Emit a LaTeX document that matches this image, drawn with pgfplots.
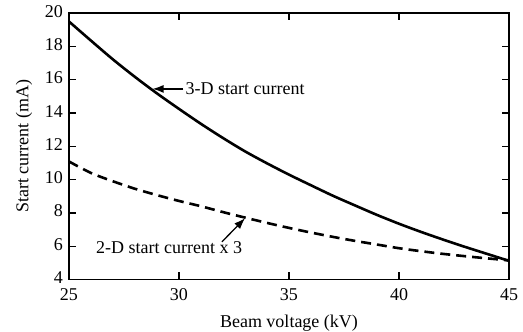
\documentclass[border=0pt]{standalone}
\usepackage{pgfplots}
\pgfplotsset{compat=1.18}
\usepackage{fontspec}
\setmainfont{Liberation Serif}
\usetikzlibrary{arrows.meta}
\begin{document}
\begin{tikzpicture}
\useasboundingbox (-69pt,-52.5pt) rectangle (454pt,279.5pt);
\begin{axis}[
  at={(0,0)}, anchor=south west,
  width=440pt, height=266.3pt, scale only axis,
  xmin=25, xmax=45, ymin=4, ymax=20,
  xtick={25,30,35,40,45}, ytick={4,6,...,20},
  tick align=inside, major tick length=7pt,
  axis line style={line width=1.6pt},
  every tick/.style={black, line width=1.3pt},
  /pgf/number format/assume math mode=true,
  tick label style={font=\fontsize{18}{20}\selectfont, inner sep=1pt},
  label style={font=\fontsize{18}{20}\selectfont},
  xticklabel style={yshift=-8pt},
  yticklabel style={xshift=-5pt, yshift=2pt},
  xlabel={Beam voltage (kV)},
  ylabel={Start current (mA)},
  xlabel style={yshift=-10pt},
  ylabel style={yshift=8pt},
  clip=false,
]
\addplot[black, line width=2.6pt, smooth] coordinates {
(25,19.5) (26,18.35) (27,17.22) (28,16.17) (29,15.18) (30,14.25)
(31,13.35) (32,12.5) (33,11.7) (34,10.98) (35,10.3) (36,9.66)
(37,9.03) (38,8.45) (39,7.88) (40,7.35) (41,6.86) (42,6.4)
(43,5.96) (44,5.54) (45,5.12)
};
\addplot[black, line width=2.6pt, smooth, dash pattern=on 10pt off 6pt] coordinates {
(25,11.09) (26,10.4) (27,9.9) (28,9.45) (29,9.07) (30,8.72)
(31,8.4) (32,8.05) (33,7.72) (34,7.4) (35,7.1) (36,6.82)
(37,6.56) (38,6.32) (39,6.1) (40,5.88) (41,5.7) (42,5.54)
(43,5.4) (44,5.27) (45,5.15)
};
\draw[line width=1.3pt, -{Latex[length=11pt,width=8pt]}] (axis cs:30.2,15.45) -- (axis cs:28.8,15.45);
\node[anchor=west, inner sep=1pt, font=\fontsize{18}{20}\selectfont] at (axis cs:30.25,15.45) {3-D start current};
\node[font=\fontsize{18}{20}\selectfont] at (axis cs:29.55,5.9) {2-D start current x 3};
\draw[line width=1.3pt, -{Latex[length=11pt,width=8pt]}] (axis cs:31.95,6.26) -- (axis cs:33.0,7.68);
\end{axis}
\end{tikzpicture}
\end{document}
